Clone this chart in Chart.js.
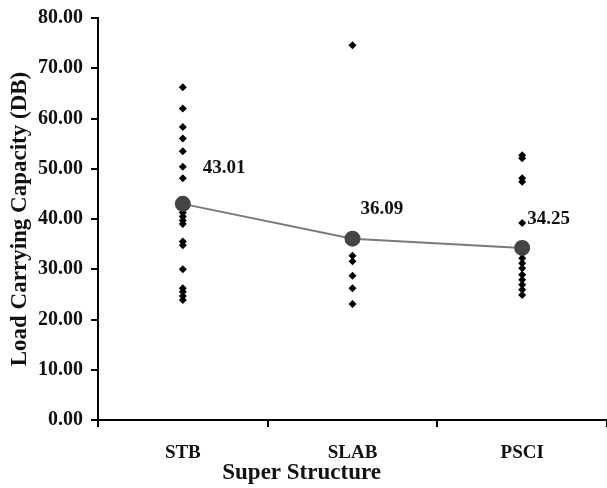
<!DOCTYPE html>
<html>
<head>
<meta charset="utf-8">
<script src="https://cdn.jsdelivr.net/npm/chart.js@4/dist/chart.umd.min.js"></script>
<style>
  html, body { margin: 0; padding: 0; background: #fff; }
  #wrap { width: 607px; height: 488px; }
</style>
</head>
<body>
<div id="wrap"><canvas id="c" width="607" height="488"></canvas></div>
<script>
const categories = ['STB', 'SLAB', 'PSCI'];
const stbValues = [66.2, 62.0, 58.3, 56.0, 53.5, 50.4, 48.1, 42.1, 41.3, 40.5, 39.7, 39.0, 35.5, 34.8, 30.0, 26.2, 25.5, 24.7, 23.9];
const slabValues = [74.6, 32.7, 31.6, 28.7, 26.2, 23.1];
const psciValues = [52.7, 52.1, 48.1, 47.4, 39.2, 33.2, 32.2, 31.2, 30.2, 28.9, 27.9, 26.9, 25.9, 24.9];
const meanValues = [43.01, 36.09, 34.25];
const meanLabels = ['43.01', '36.09', '34.25'];
const yTickValues = [0, 10, 20, 30, 40, 50, 60, 70, 80];
const yAxisTitle = 'Load Carrying Capacity (DB)';
const xAxisTitle = 'Super Structure';

const FONT = "'Liberation Serif', 'Times New Roman', serif";
const seriesByCategory = [stbValues, slabValues, psciValues];
const rawPoints = [];
seriesByCategory.forEach((vals, i) => vals.forEach(v => rawPoints.push({ x: categories[i], y: v })));

const labelOffsets = [[20, -36], [8, -30], [5, -29]];

const meanLabelPlugin = {
  id: 'meanLabels',
  afterDatasetsDraw(chart) {
    const meta = chart.getDatasetMeta(1);
    const ctx = chart.ctx;
    ctx.save();
    ctx.font = 'bold 19px ' + FONT;
    ctx.fillStyle = '#111';
    ctx.textAlign = 'left';
    ctx.textBaseline = 'middle';
    meta.data.forEach((pt, i) => {
      ctx.fillText(meanLabels[i], pt.x + labelOffsets[i][0], pt.y + labelOffsets[i][1]);
    });
    ctx.restore();
  },
  afterDraw(chart) {
    const ctx = chart.ctx;
    const a = chart.chartArea;
    ctx.save();
    ctx.font = 'bold 23px ' + FONT;
    ctx.fillStyle = '#111';
    ctx.textAlign = 'center';
    ctx.textBaseline = 'alphabetic';
    ctx.fillText(xAxisTitle, a.left + (a.right - a.left) * 0.40, 479);
    ctx.restore();
  }
};

new Chart(document.getElementById('c'), {
  type: 'line',
  data: {
    labels: categories,
    datasets: [
      {
        label: 'Observations',
        data: rawPoints,
        showLine: false,
        pointStyle: 'rectRot',
        pointRadius: 4,
        pointBackgroundColor: '#000',
        pointBorderColor: '#000',
        pointBorderWidth: 0,
        order: 2
      },
      {
        label: 'Mean',
        data: meanValues,
        borderColor: '#7a7a7a',
        borderWidth: 2,
        pointStyle: 'circle',
        pointRadius: 7,
        pointBackgroundColor: '#444',
        pointBorderColor: '#444',
        tension: 0,
        order: 1
      }
    ]
  },
  options: {
    responsive: false,
    animation: false,
    devicePixelRatio: 1,
    layout: { autoPadding: false, padding: { top: 18, right: 0, bottom: 0, left: 0 } },
    plugins: { legend: { display: false }, tooltip: { enabled: false } },
    scales: {
      x: {
        type: 'category',
        offset: true,
        grid: { display: true, offset: true, drawOnChartArea: false, drawTicks: true, tickLength: 7, color: '#000', lineWidth: 2 },
        border: { display: true, color: '#000', width: 2 },
        ticks: { color: '#111', font: { family: FONT, size: 19, weight: 'bold' }, padding: 15, maxRotation: 0 },
        title: { display: false },
        afterFit(s) { s.height = 68; s.paddingLeft = 0; s.paddingRight = 0; }
      },
      y: {
        min: 0,
        max: 80,
        afterBuildTicks(s) { s.ticks = yTickValues.map(v => ({ value: v })); },
        grid: { display: true, drawOnChartArea: false, drawTicks: true, tickLength: 7, color: '#000', lineWidth: 2 },
        border: { display: true, color: '#000', width: 2 },
        ticks: {
          color: '#111',
          font: { family: FONT, size: 20, weight: 'bold' },
          padding: 8,
          callback: v => Number(v).toFixed(2)
        },
        title: {
          display: true,
          text: yAxisTitle,
          color: '#111',
          font: { family: FONT, size: 23, weight: 'bold' },
          padding: { top: 6, bottom: 0 }
        },
        afterFit(s) { s.width = 98; s.paddingTop = 0; s.paddingBottom = 0; }
      }
    }
  },
  plugins: [meanLabelPlugin]
});
</script>
</body>
</html>
